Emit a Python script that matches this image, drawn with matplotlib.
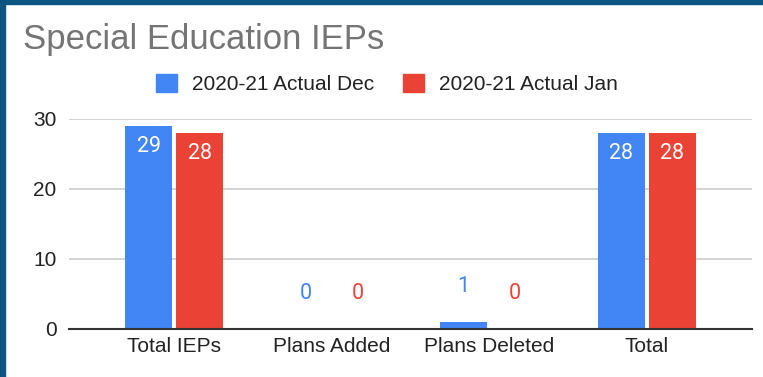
import matplotlib
matplotlib.use('Agg')
import matplotlib.pyplot as plt
from matplotlib.patches import Patch, Rectangle
import numpy as np

categories = ['Total IEPs', 'Plans Added', 'Plans Deleted', 'Total']
series_names = ['2020-21 Actual Dec', '2020-21 Actual Jan']
dec_values = [29, 0, 1, 28]
jan_values = [28, 0, 0, 28]
colors = ['#4285F4', '#EA4335']
y_ticks = [0, 10, 20, 30]

plt.rcParams['font.family'] = ['Liberation Sans', 'DejaVu Sans']

fig = plt.figure(figsize=(7.63, 3.77), dpi=100)
ax = fig.add_axes([69 / 763, 48.3 / 377, (752 - 69) / 763, (328.7 - 119) / 377])

x = np.arange(len(categories))
width = 0.3
gap = 0.025
offsets = [-(width + gap) / 2, (width + gap) / 2]

for vals, off, col in zip([dec_values, jan_values], offsets, colors):
    bars = ax.bar(x + off, vals, width=width, color=col, zorder=3)
    for b, v in zip(bars, vals):
        cx = b.get_x() + b.get_width() / 2
        if v >= 5:
            ax.annotate(str(v), (cx, v), xytext=(0, -15), textcoords='offset points',
                        ha='center', va='center', color='white', fontsize=15.5,
                        family=['Roboto', 'DejaVu Sans'], zorder=4)
        else:
            ax.annotate(str(v), (cx, v), xytext=(0, 25.5), textcoords='offset points',
                        ha='center', va='center', color=col, fontsize=15.5,
                        family=['Roboto', 'DejaVu Sans'], zorder=4)

ax.set_xlim(-0.667, 3.667)
ax.set_ylim(0, 30)
ax.set_yticks(y_ticks)
ax.set_xticks(x)
ax.set_xticklabels(categories)
ax.tick_params(axis='both', length=0, labelsize=15, colors='#222222')
ax.tick_params(axis='y', pad=9)
ax.tick_params(axis='x', pad=6)
ax.grid(axis='y', color='#cccccc', linewidth=1.2, zorder=0)
for s in ['top', 'right', 'left']:
    ax.spines[s].set_visible(False)
ax.spines['bottom'].set_color('#333333')
ax.spines['bottom'].set_linewidth(1.5)
ax.spines['bottom'].set_zorder(5)

fig.text(23 / 763, 1 - 49 / 377, 'Special Education IEPs', fontsize=25,
         color='#757575', ha='left', va='baseline')

handles = [Patch(facecolor=c, edgecolor=c) for c in colors]
fig.legend(handles, series_names, loc='center', bbox_to_anchor=(387 / 763, 1 - 84 / 377),
           ncol=2, frameon=False, fontsize=15, handlelength=1.0, handleheight=1.0,
           handletextpad=0.75, columnspacing=1.35, labelcolor='#222222')

# dark frame along the top and left edges
fig.patches.append(Rectangle((0, 1 - 4 / 377), 1, 4 / 377, transform=fig.transFigure,
                             color='#0a5482', zorder=10))
fig.patches.append(Rectangle((0, 0), 5 / 763, 1, transform=fig.transFigure,
                             color='#0a5482', zorder=10))

fig.savefig('out.png', dpi=100)
